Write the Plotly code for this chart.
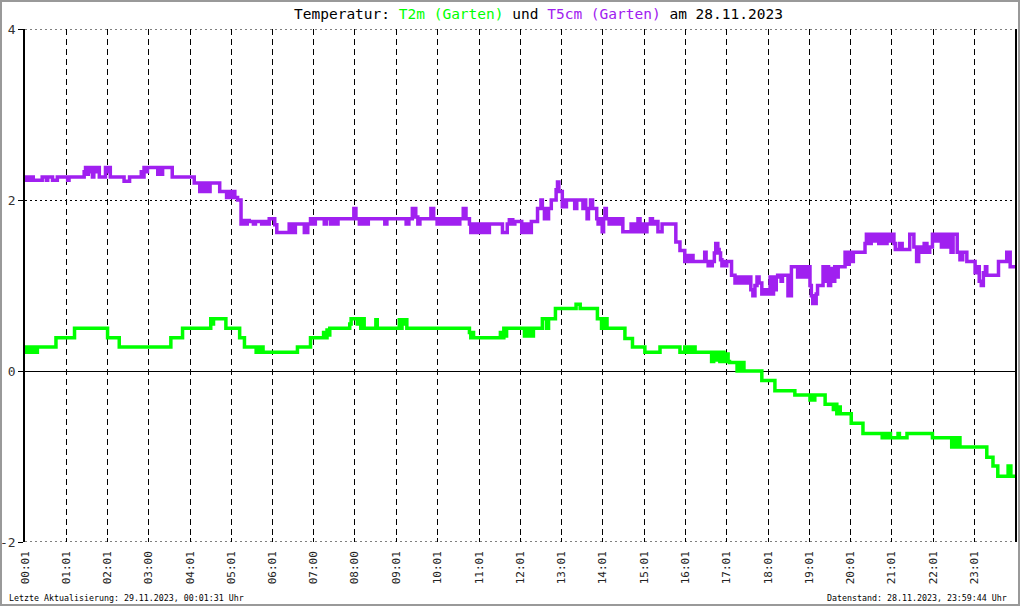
import plotly.graph_objects as go

# T5cm (Garten) - Minuten seit Mitternacht und Werte in Grad C
t5_min = [1, 3, 5, 7, 11, 13, 26, 32, 34, 41, 48, 63, 65, 87, 89, 91, 93, 95, 97, 99,
          101, 104, 106, 109, 118, 120, 122, 125, 145, 153, 170, 172, 174, 176, 179, 194,
          196, 198, 201, 215, 247, 255, 258, 261, 264, 267, 270, 284, 294, 297, 300, 303,
          306, 310, 315, 318, 321, 324, 327, 333, 336, 345, 348, 352, 356, 364, 367, 385,
          388, 390, 392, 394, 407, 412, 416, 420, 423, 436, 439, 445, 447, 451, 456, 479,
          482, 487, 490, 495, 500, 524, 527, 555, 559, 564, 569, 572, 575, 591, 595, 600,
          603, 606, 611, 615, 618, 622, 625, 630, 633, 638, 642, 647, 649, 652, 655, 658,
          661, 664, 667, 670, 673, 676, 695, 702, 705, 710, 713, 723, 727, 730, 732, 734,
          737, 746, 751, 753, 756, 758, 760, 762, 766, 773, 775, 777, 782, 784, 786, 788,
          800, 803, 812, 814, 816, 818, 820, 823, 826, 832, 834, 837, 840, 842, 844, 846,
          850, 853, 856, 859, 862, 865, 870, 882, 884, 887, 890, 892, 895, 898, 901, 905,
          910, 913, 917, 921, 927, 947, 953, 960, 964, 966, 970, 972, 989, 991, 994, 996,
          998, 1000, 1003, 1005, 1008, 1010, 1012, 1014, 1017, 1019, 1021, 1028, 1033, 1035,
          1038, 1041, 1044, 1047, 1050, 1053, 1056, 1059, 1062, 1065, 1068, 1072, 1076, 1080,
          1084, 1086, 1089, 1091, 1093, 1095, 1100, 1102, 1110, 1115, 1124, 1126, 1129, 1132,
          1135, 1138, 1142, 1144, 1146, 1151, 1153, 1161, 1163, 1166, 1169, 1172, 1175, 1178,
          1181, 1183, 1193, 1196, 1199, 1202, 1205, 1222, 1224, 1228, 1231, 1235, 1238, 1242,
          1246, 1251, 1254, 1258, 1262, 1264, 1266, 1272, 1276, 1287, 1293, 1297, 1300, 1304,
          1308, 1312, 1316, 1320, 1325, 1328, 1333, 1336, 1340, 1343, 1347, 1350, 1356, 1360,
          1364, 1370, 1382, 1385, 1388, 1391, 1394, 1397, 1399, 1416, 1428, 1433, 1440]
t5_val = [2.27, 2.23, 2.27, 2.23, 2.27, 2.23, 2.27, 2.23, 2.27, 2.23, 2.27, 2.23, 2.27, 2.33,
          2.38, 2.30, 2.38, 2.33, 2.38, 2.27, 2.38, 2.33, 2.38, 2.27, 2.38, 2.33, 2.38, 2.27,
          2.22, 2.27, 2.33, 2.27, 2.38, 2.33, 2.38, 2.30, 2.38, 2.30, 2.38, 2.27, 2.20, 2.10,
          2.20, 2.10, 2.20, 2.10, 2.20, 2.10, 2.03, 2.10, 2.03, 2.10, 2.03, 2.00, 1.72, 1.76,
          1.72, 1.76, 1.75, 1.72, 1.75, 1.72, 1.75, 1.72, 1.78, 1.71, 1.62, 1.72, 1.62, 1.72,
          1.62, 1.72, 1.62, 1.72, 1.78, 1.72, 1.78, 1.72, 1.78, 1.72, 1.78, 1.72, 1.78, 1.90,
          1.78, 1.72, 1.78, 1.72, 1.78, 1.72, 1.78, 1.72, 1.78, 1.90, 1.80, 1.72, 1.78, 1.90,
          1.78, 1.72, 1.78, 1.72, 1.78, 1.72, 1.78, 1.72, 1.78, 1.72, 1.78, 1.90, 1.78, 1.72,
          1.62, 1.72, 1.62, 1.72, 1.62, 1.72, 1.62, 1.72, 1.62, 1.72, 1.62, 1.72, 1.77, 1.72,
          1.75, 1.62, 1.72, 1.62, 1.72, 1.62, 1.75, 1.90, 2.00, 1.90, 1.78, 1.90, 1.78, 1.90,
          2.00, 2.12, 2.21, 2.10, 1.92, 2.00, 1.92, 2.00, 1.90, 2.00, 1.90, 2.00, 1.90, 1.78,
          1.90, 2.00, 1.90, 1.78, 1.72, 1.78, 1.63, 1.78, 1.90, 1.78, 1.72, 1.78, 1.72, 1.78,
          1.72, 1.78, 1.63, 1.72, 1.63, 1.72, 1.63, 1.78, 1.63, 1.72, 1.63, 1.72, 1.78, 1.72,
          1.75, 1.63, 1.72, 1.51, 1.41, 1.28, 1.35, 1.28, 1.35, 1.28, 1.39, 1.28, 1.23, 1.28,
          1.23, 1.28, 1.38, 1.49, 1.42, 1.38, 1.30, 1.23, 1.28, 1.23, 1.28, 1.12, 1.03, 1.10,
          1.03, 1.10, 1.03, 1.10, 1.03, 1.10, 0.95, 0.88, 1.00, 1.10, 1.03, 0.90, 0.95, 0.90,
          1.10, 0.90, 1.10, 0.95, 1.10, 1.12, 1.05, 1.12, 0.88, 1.22, 1.10, 1.22, 1.10, 1.22,
          1.10, 1.22, 1.00, 0.88, 0.79, 0.90, 1.00, 1.22, 1.05, 1.22, 1.00, 1.20, 1.05, 1.22,
          1.10, 1.22, 1.39, 1.25, 1.39, 1.28, 1.39, 1.49, 1.60, 1.49, 1.60, 1.52, 1.60, 1.49,
          1.60, 1.49, 1.60, 1.52, 1.60, 1.49, 1.42, 1.49, 1.42, 1.60, 1.45, 1.28, 1.45, 1.39,
          1.49, 1.39, 1.45, 1.60, 1.52, 1.60, 1.45, 1.60, 1.45, 1.60, 1.39, 1.60, 1.39, 1.30,
          1.39, 1.28, 1.15, 1.22, 1.05, 1.00, 1.15, 1.22, 1.12, 1.28, 1.39, 1.22, 1.22]

# T2m (Garten)
t2_min = [1, 3, 5, 8, 10, 13, 16, 19, 46, 73, 121, 138, 213, 230, 271, 273, 275, 293, 313,
          320, 337, 339, 342, 344, 347, 397, 416, 435, 437, 440, 442, 444, 473, 475, 484,
          486, 489, 491, 494, 511, 513, 545, 547, 549, 551, 553, 556, 647, 649, 651, 653,
          692, 694, 697, 699, 701, 727, 729, 731, 734, 736, 740, 753, 759, 762, 772, 802,
          808, 833, 839, 841, 843, 845, 847, 873, 884, 902, 924, 953, 960, 963, 966, 969,
          972, 975, 999, 1002, 1005, 1008, 1011, 1014, 1017, 1020, 1023, 1025, 1036, 1038,
          1041, 1043, 1046, 1072, 1091, 1120, 1142, 1144, 1146, 1149, 1164, 1176, 1178,
          1181, 1183, 1186, 1202, 1219, 1247, 1250, 1253, 1256, 1259, 1270, 1272, 1283,
          1320, 1348, 1351, 1354, 1357, 1360, 1399, 1408, 1415, 1430, 1434, 1440]
t2_val = [0.22, 0.28, 0.22, 0.28, 0.22, 0.28, 0.22, 0.28, 0.39, 0.50, 0.39, 0.28, 0.39, 0.50,
          0.61, 0.55, 0.61, 0.50, 0.39, 0.28, 0.22, 0.28, 0.22, 0.28, 0.22, 0.28, 0.39, 0.45,
          0.39, 0.48, 0.42, 0.50, 0.55, 0.61, 0.55, 0.61, 0.50, 0.61, 0.50, 0.60, 0.50, 0.60,
          0.50, 0.60, 0.55, 0.60, 0.50, 0.45, 0.39, 0.45, 0.39, 0.45, 0.39, 0.50, 0.41, 0.50,
          0.41, 0.50, 0.41, 0.50, 0.41, 0.50, 0.61, 0.50, 0.61, 0.73, 0.78, 0.73, 0.61, 0.50,
          0.61, 0.50, 0.61, 0.50, 0.38, 0.28, 0.22, 0.28, 0.22, 0.28, 0.22, 0.28, 0.22, 0.28,
          0.22, 0.11, 0.22, 0.13, 0.22, 0.11, 0.22, 0.11, 0.20, 0.11, 0.10, 0.00, 0.10, 0.00,
          0.10, 0.00, -0.11, -0.23, -0.28, -0.34, -0.28, -0.34, -0.28, -0.39, -0.45, -0.39,
          -0.50, -0.42, -0.50, -0.61, -0.73, -0.78, -0.73, -0.78, -0.73, -0.78, -0.73, -0.78,
          -0.73, -0.78, -0.89, -0.78, -0.89, -0.78, -0.89, -1.01, -1.11, -1.23, -1.11, -1.23,
          -1.23]

tick_min = [1, 61, 121, 180, 241, 301, 361, 420, 480, 541, 601, 661, 721, 781, 841, 901,
            961, 1021, 1081, 1141, 1201, 1261, 1321, 1381]
tick_text = ["00:01", "01:01", "02:01", "03:00", "04:01", "05:01", "06:01", "07:00",
             "08:00", "09:01", "10:01", "11:01", "12:01", "13:01", "14:01", "15:01",
             "16:01", "17:01", "18:01", "19:01", "20:01", "21:01", "22:01", "23:01"]
y_ticks = [-2, 0, 2, 4]

GREEN = "#00ff00"
PURPLE = "#a020f0"
MONO = "DejaVu Sans Mono"

W, H = 1020, 606
L, R, T, B = 25, 5, 29, 64
pw, ph = W - L - R, H - T - B


def px(x):
    return (x - L) / pw


def py(y):
    return (H - B - y) / ph


fig = go.Figure()
fig.add_trace(go.Scatter(x=t5_min, y=t5_val, mode="lines", line_shape="hv",
                         line=dict(color=PURPLE, width=3.5), name="T5cm"))
fig.add_trace(go.Scatter(x=t2_min, y=t2_val, mode="lines", line_shape="hv",
                         line=dict(color=GREEN, width=3.5), name="T2m"))

fig.update_layout(
    width=W, height=H,
    margin=dict(l=L, r=R, t=T, b=B, autoexpand=False),
    paper_bgcolor="white", plot_bgcolor="white",
    showlegend=False,
    font=dict(family=MONO, color="black", size=11),
    xaxis=dict(
        range=[1, 1440], tickvals=tick_min, ticktext=tick_text, tickangle=-90,
        showgrid=True, gridcolor="black", gridwidth=1, griddash="6px,4px",
        showline=False, zeroline=False, automargin=False,
        ticks="inside", ticklen=4, tickcolor="black", ticklabelstandoff=6,
        tickfont=dict(family=MONO, size=11, color="#222"),
    ),
    yaxis=dict(
        range=[-2, 4], tickvals=y_ticks, ticktext=[str(v) for v in y_ticks],
        showgrid=True, gridcolor="black", gridwidth=1, griddash="2px,3px",
        zeroline=True, zerolinecolor="black", zerolinewidth=1,
        showline=True, mirror=True, linecolor="black", linewidth=1.5,
        ticks="outside", ticklen=5, tickcolor="black", automargin=False,
        tickfont=dict(family=MONO, size=13, color="#333"),
    ),
)

# gepunktete Linien oben und unten (Rand des Diagramms)
for yv in (4, -2):
    fig.add_shape(type="line", xref="paper", yref="y", x0=0, x1=1, y0=yv, y1=yv,
                  line=dict(color="black", width=1, dash="2px,3px"), layer="above")

fig.add_annotation(
    x=px(538), y=py(14), xref="paper", yref="paper", showarrow=False,
    xanchor="center", yanchor="middle",
    font=dict(family=MONO, size=14.5, color="black"),
    text=("Temperatur: <span style='color:%s'>T2m (Garten)</span> und "
          "<span style='color:%s'>T5cm (Garten)</span> am 28.11.2023") % (GREEN, PURPLE),
)
fig.add_annotation(
    x=px(7), y=py(598), xref="paper", yref="paper", showarrow=False,
    xanchor="left", yanchor="middle", font=dict(family=MONO, size=8.3, color="black"),
    text="Letzte Aktualisierung: 29.11.2023, 00:01:31 Uhr",
)
fig.add_annotation(
    x=px(1009), y=py(598), xref="paper", yref="paper", showarrow=False,
    xanchor="right", yanchor="middle", font=dict(family=MONO, size=8.3, color="black"),
    text="Datenstand: 28.11.2023, 23:59:44 Uhr",
)

# grauer Rahmen um das ganze Bild
fig.add_shape(type="rect", xref="paper", yref="paper",
              x0=px(1), x1=px(W - 1), y0=py(H - 1), y1=py(1),
              line=dict(color="#999999", width=2), layer="above")

# Seitenrand des Browsers entfernen, damit das Bild bei 0,0 beginnt
fig.write_html("out.html", config={"displayModeBar": False},
               post_script="document.body.style.margin='0';")
